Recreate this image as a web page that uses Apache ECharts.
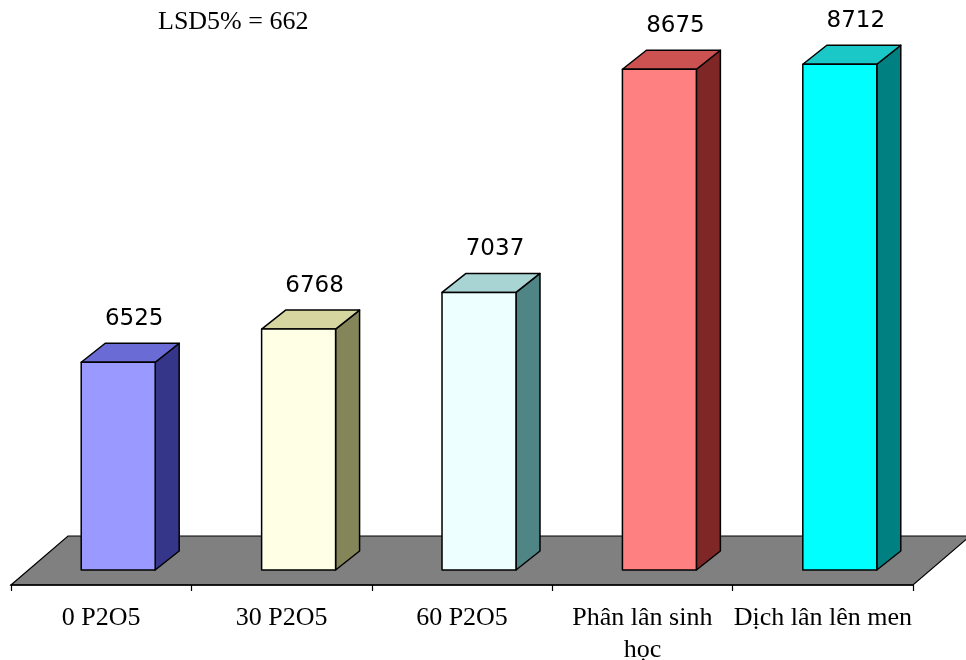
<!DOCTYPE html>
<html>
<head>
<meta charset="utf-8">
<script src="https://cdn.jsdelivr.net/npm/echarts@6/dist/echarts.min.js"></script>
<style>
  html, body { margin: 0; padding: 0; background: #ffffff; }
  #chart { width: 966px; height: 660px; }
</style>
</head>
<body>
<div id="chart"></div>
<script>
// Yield by phosphorus treatment
const categories = ['0 P2O5', '30 P2O5', '60 P2O5', 'Phân lân sinh\nhọc', 'Dịch lân lên men'];
const yields = [6525, 6768, 7037, 8675, 8712];
const lsdNote = 'LSD5% = 662';

// Face colours per column: front, top, side
const frontColors = ['#9999ff', '#ffffe6', '#eeffff', '#ff8080', '#00ffff'];
const topColors   = ['#6b6bd6', '#d6d6a0', '#a9d4d4', '#cc5252', '#1ac8c8'];
const sideColors  = ['#35358a', '#85855a', '#4f8584', '#7f2626', '#008080'];

const AXIS_MIN = 5000;
const AXIS_MAX = 9000;

// oblique projection of the floor depth and of each column's depth
const FLOOR_DX = 57, FLOOR_DY = -49;
const BAR_SHIFT_DX = 17, BAR_SHIFT_DY = -15;
const BAR_DX = 24, BAR_DY = -19;

const chart = echarts.init(document.getElementById('chart'), null, { renderer: 'canvas' });

function renderFloor(params, api) {
  const band = api.size([1, 0])[0];
  const left = api.coord([0, AXIS_MIN]);
  const right = api.coord([categories.length - 1, AXIS_MIN]);
  const x0 = left[0] - band / 2, x1 = right[0] + band / 2, y = left[1];
  return {
    type: 'polygon',
    shape: { points: [[x0, y], [x1, y], [x1 + FLOOR_DX, y + FLOOR_DY], [x0 + FLOOR_DX, y + FLOOR_DY]] },
    style: { fill: '#808080', stroke: '#000000', lineWidth: 1.2 },
    z2: 0
  };
}

function renderBar(params, api) {
  const i = api.value(0);
  const v = api.value(1);
  const band = api.size([1, 0])[0];
  const w = band * 0.41;
  const base = api.coord([i, AXIS_MIN]);
  const top = api.coord([i, v]);
  const cx = base[0] + BAR_SHIFT_DX;
  const xl = cx - w / 2, xr = cx + w / 2;
  const yb = base[1] + BAR_SHIFT_DY, yt = top[1] + BAR_SHIFT_DY;
  const edge = { stroke: '#000000', lineWidth: 1.5, lineJoin: 'round' };
  const idx = params.dataIndex;
  return {
    type: 'group',
    children: [
      { type: 'polygon',
        shape: { points: [[xr, yb], [xr + BAR_DX, yb + BAR_DY], [xr + BAR_DX, yt + BAR_DY], [xr, yt]] },
        style: Object.assign({ fill: sideColors[idx] }, edge) },
      { type: 'polygon',
        shape: { points: [[xl, yt], [xr, yt], [xr + BAR_DX, yt + BAR_DY], [xl + BAR_DX, yt + BAR_DY]] },
        style: Object.assign({ fill: topColors[idx] }, edge) },
      { type: 'rect',
        shape: { x: xl, y: yt, width: w, height: yb - yt },
        style: Object.assign({ fill: frontColors[idx] }, edge) },
      { type: 'text',
        style: {
          text: String(v),
          x: cx + 16, y: yt + BAR_DY - 24,
          align: 'center', verticalAlign: 'middle',
          fontFamily: 'DejaVu Sans', fontSize: 23, fill: '#000000'
        } }
    ]
  };
}

chart.setOption({
  animation: false,
  backgroundColor: '#ffffff',
  grid: { left: 11, right: 53, top: 40, bottom: 75, containLabel: false, outerBoundsMode: 'none' },
  xAxis: {
    type: 'category',
    data: categories,
    boundaryGap: true,
    axisLine: { show: true, lineStyle: { color: '#000000', width: 1.5 } },
    axisTick: { show: true, length: 6, lineStyle: { color: '#000000', width: 1.2 } },
    axisLabel: {
      color: '#000000', fontFamily: 'Liberation Serif', fontSize: 26,
      lineHeight: 32, margin: 17, interval: 0
    },
    z: 10
  },
  yAxis: {
    type: 'value', min: AXIS_MIN, max: AXIS_MAX,
    show: false, splitLine: { show: false }
  },
  graphic: [{
    type: 'text', left: 158, top: 9,
    style: { text: lsdNote, fontFamily: 'Liberation Serif', fontSize: 26, fill: '#000000' }
  }],
  series: [
    {
      type: 'custom', name: 'floor', silent: true, z: 1,
      data: [[0, AXIS_MIN]],
      renderItem: renderFloor
    },
    {
      type: 'custom', name: 'yield', z: 2,
      data: yields.map((v, i) => [i, v]),
      encode: { x: 0, y: 1 },
      renderItem: renderBar
    }
  ]
});
</script>
</body>
</html>
